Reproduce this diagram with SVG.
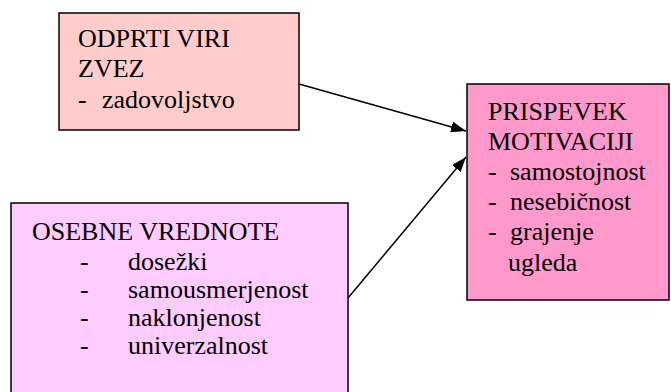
<svg xmlns="http://www.w3.org/2000/svg" width="671" height="392" viewBox="0 0 671 392">
<style>
.box{stroke:#000;stroke-width:1.5}
.t{font-family:"Liberation Serif","Times New Roman",serif;font-size:26px;fill:#000}
.c{stroke:#000;stroke-width:1.5;fill:none}
</style>
<defs>
<marker id="ah" viewBox="0 0 10 10" refX="10" refY="5" markerWidth="15" markerHeight="11" markerUnits="userSpaceOnUse" orient="auto" preserveAspectRatio="none">
<path d="M0,0 L10,5 L0,10 z" fill="#000"/>
</marker>
</defs>
<rect width="671" height="392" fill="#fff"/>
<g id="connectors">
<line class="c" x1="299" y1="84" x2="466" y2="131" marker-end="url(#ah)"/>
<line class="c" x1="348" y1="298" x2="466" y2="157" marker-end="url(#ah)"/>
</g>
<g id="odprti">
<rect class="box" x="59" y="13" width="240" height="117" fill="#ffcccc"/>
<text class="t" x="78" y="47">ODPRTI VIRI</text>
<text class="t" x="78" y="77">ZVEZ</text>
<text class="t" x="78" y="108">-</text>
<text class="t" x="102" y="108">zadovoljstvo</text>
</g>
<g id="osebne">
<rect class="box" x="11" y="203" width="337" height="200" fill="#ffccff"/>
<text class="t" x="32" y="240">OSEBNE VREDNOTE</text>
<text class="t" x="80" y="270">-</text><text class="t" x="128" y="270">dosežki</text>
<text class="t" x="80" y="298">-</text><text class="t" x="128" y="298">samousmerjenost</text>
<text class="t" x="80" y="326">-</text><text class="t" x="128" y="326">naklonjenost</text>
<text class="t" x="80" y="354">-</text><text class="t" x="128" y="354">univerzalnost</text>
</g>
<g id="prispevek">
<rect class="box" x="467" y="84" width="202" height="216" fill="#ff99cc"/>
<text class="t" x="488" y="120">PRISPEVEK</text>
<text class="t" x="488" y="150">MOTIVACIJI</text>
<text class="t" x="488" y="180">-</text><text class="t" x="510" y="180">samostojnost</text>
<text class="t" x="488" y="210">-</text><text class="t" x="510" y="210">nesebičnost</text>
<text class="t" x="488" y="240">-</text><text class="t" x="510" y="240">grajenje</text>
<text class="t" x="508" y="271">ugleda</text>
</g>
</svg>
